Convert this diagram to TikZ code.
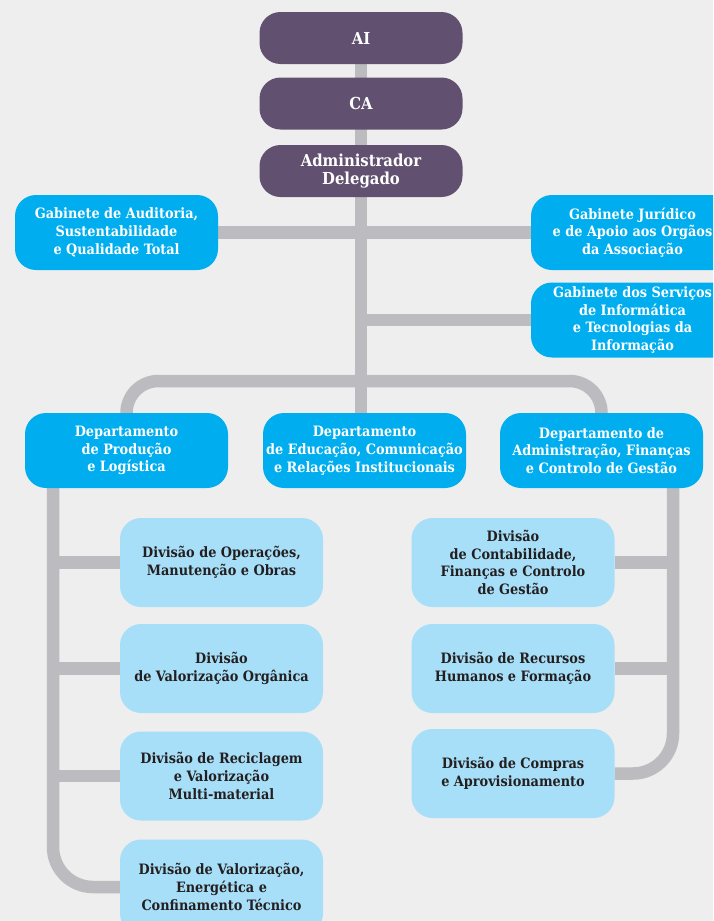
\documentclass[tikz,border=0pt]{standalone}
\usepackage{fontspec}
\setmainfont{DejaVu Serif Condensed}
\usepackage{tikz}
\usetikzlibrary{calc}
\usepackage{xcolor}

\pgfdeclarelayer{backdrop}
\pgfdeclarelayer{connectors}
\pgfsetlayers{backdrop,connectors,main}

\begin{document}
\begin{tikzpicture}[x=1pt,y=-1pt,
    orgLine/.style={line width=12.5pt, draw=lineGray},
    orgBox/.style={rectangle, rounded corners=21pt, minimum width=203pt,
        align=center, inner sep=2pt,
        font=\fontsize{14.3}{17.8}\selectfont\bfseries},
    purpleBox/.style={orgBox, fill=boardPurple, text=white, minimum height=52pt,
        font=\fontsize{16.5}{18.3}\selectfont\bfseries},
    blueBox/.style={orgBox, fill=deptBlue, text=white, minimum height=75pt},
    divBox/.style={orgBox, fill=divBlue, text=divText, minimum height=89pt},
]

% colors
\definecolor{bgGray}{HTML}{EEEEEE}
\definecolor{lineGray}{HTML}{BCBCC0}
\definecolor{boardPurple}{HTML}{61506F}
\definecolor{deptBlue}{HTML}{00AEEF}
\definecolor{divBlue}{HTML}{A8DFF8}
\definecolor{divText}{HTML}{231F20}

% background and page size
\begin{pgfonlayer}{backdrop}
\fill[bgGray] (0,0) rectangle (713,921);
\end{pgfonlayer}
\useasboundingbox (0,0) rectangle (713,921);
\clip (0,0) rectangle (713,921);

% spine positions
\def\spineLeftX{53}
\def\spineRightX{673}
\def\railY{381}

% top of the organisation
\node[purpleBox] (ai) at (361,38) {AI};
\node[purpleBox] (ca) at (361,103.5) {CA};
\node[purpleBox] (adminDelegado) at (361,171) {Administrador\\Delegado};

% gabinetes
\node[blueBox] (gabAuditoria) at (116.5,232.5) {Gabinete de Auditoria,\\Sustentabilidade\\e Qualidade Total};
\node[blueBox] (gabJuridico) at (632.5,232.5) {Gabinete Jurídico\\e de Apoio aos Orgãos\\da Associação};
\node[blueBox] (gabInformatica) at (632.5,320) {Gabinete dos Serviços\\de Informática\\e Tecnologias da\\Informação};

% departamentos
\node[blueBox] (deptProducao) at (126.5,450.5) {Departamento\\de Produção\\e Logística};
\node[blueBox] (deptEducacao) at (364.5,450.5) {Departamento\\de Educação, Comunicação\\e Relações Institucionais};
\node[blueBox] (deptAdministracao) at (601.5,450.5) {Departamento de\\Administração, Finanças\\e Controlo de Gestão};

% divisoes (left)
\node[divBox] (divOperacoes) at (221.5,562.5) {Divisão de Operações,\\Manutenção e Obras};
\node[divBox] (divOrganica) at (221.5,668.5) {Divisão\\de Valorização Orgânica};
\node[divBox] (divReciclagem) at (221.5,776) {Divisão de Reciclagem\\e Valorização\\Multi-material};
\node[divBox, minimum height=95pt] (divEnergetica) at (221.5,887) {Divisão de Valorização,\\Energética e\\Confinamento Técnico};

% divisoes (right)
\node[divBox] (divContabilidade) at (513,562.5) {Divisão\\de Contabilidade,\\Finanças e Controlo\\de Gestão};
\node[divBox] (divRecursos) at (513,668.5) {Divisão de Recursos\\Humanos e Formação};
\node[divBox] (divCompras) at (513,773.5) {Divisão de Compras\\e Aprovisionamento};

% connectors, drawn behind the boxes
\coordinate (railRight) at (deptAdministracao |- 0,\railY);
\coordinate (spineLeftTop) at (\spineLeftX,470);
\coordinate (spineRightTop) at (\spineRightX,470);

\begin{pgfonlayer}{connectors}
% main vertical line
\draw[orgLine] (ai) -- (ai |- deptEducacao);
% gabinetes
\draw[orgLine] (gabAuditoria) -- (gabJuridico);
\draw[orgLine] (ai |- gabInformatica) -- (gabInformatica);
% rail to the departamentos
\draw[orgLine, rounded corners=32pt] (deptProducao) |- (railRight) -- (deptAdministracao);
% left spine
\draw[orgLine, rounded corners=40pt] (spineLeftTop) |- (divEnergetica);
\draw[orgLine] (divOperacoes) -- (divOperacoes -| spineLeftTop);
\draw[orgLine] (divOrganica) -- (divOrganica -| spineLeftTop);
\draw[orgLine] (divReciclagem) -- (divReciclagem -| spineLeftTop);
% right spine
\draw[orgLine, rounded corners=40pt] (spineRightTop) |- (divCompras);
\draw[orgLine] (divContabilidade) -- (divContabilidade -| spineRightTop);
\draw[orgLine] (divRecursos) -- (divRecursos -| spineRightTop);
\end{pgfonlayer}

\end{tikzpicture}
\end{document}
